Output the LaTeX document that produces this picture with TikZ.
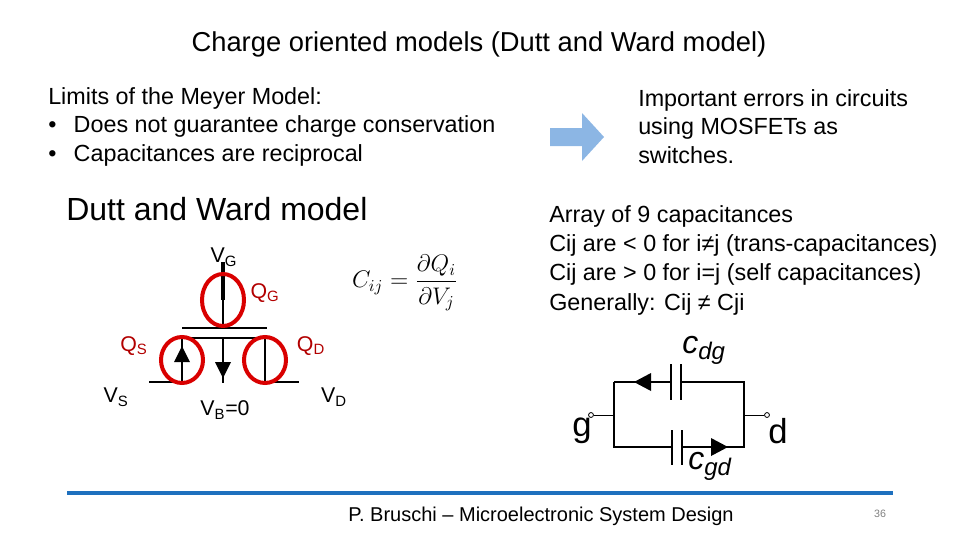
\documentclass[tikz,border=0pt]{standalone}
\usepackage{fontspec}
\setmainfont{Liberation Sans}
\usetikzlibrary{arrows.meta}
\definecolor{arrblue}{RGB}{140,182,228}
\definecolor{lineblue}{RGB}{30,112,190}
\begin{document}
\begin{tikzpicture}[x=0.75pt,y=-0.75pt,
  txt/.style={inner sep=0pt,anchor=west,font=\fontsize{17.5}{21.5}\selectfont},
  wire/.style={line width=1.6pt},
  ring/.style={draw=red!85!black,line width=3pt},
  rq/.style={text=red!70!black,inner sep=0pt,font=\fontsize{16}{18}\selectfont},
  lab/.style={inner sep=0pt,font=\fontsize{16}{18}\selectfont},
  capline/.style={line width=1.2pt}]
\useasboundingbox (0,0) rectangle (960,540);
\node[inner sep=0pt,font=\fontsize{20.5}{24}\selectfont] (title) at (479,44) {Charge oriented models (Dutt and Ward model)};
\node[txt,anchor=north west,align=left] (lim) at (48,87) {Limits of the Meyer Model:\\
\textbullet\hspace{13pt}Does not guarantee charge conservation\\
\textbullet\hspace{13pt}Capacitances are reciprocal};
\fill[arrblue] (550,128) -- (582,128) -- (582,113) -- (604,137) -- (582,161) -- (582,146) -- (550,146) -- cycle;
\node[txt,anchor=north west,align=left] (err) at (638,89) {Important errors in circuits\\using MOSFETs as\\switches.};
\node[inner sep=0pt,anchor=west,font=\fontsize{24}{28}\selectfont] (dw) at (66,209) {Dutt and Ward model};
\node[txt,anchor=north west,align=left,font=\fontsize{17.5}{22}\selectfont] (arr) at (549,205) {Array of 9 capacitances\\
Cij are < 0 for i≠j (trans-capacitances)\\
Cij are > 0 for i=j (self capacitances)\\
Generally: Cij ≠ Cji};
% MOSFET
\coordinate (g0) at (223,262); \coordinate (g1) at (223,328);
\draw[line width=2.5pt] (g0) -- (223,300);
\draw[wire] (223,300) -- (g1);
\draw[wire] (182,328) -- (267,328);
\draw[wire] (182,338) -- (267,338);
\draw[wire] (182,338) -- (182,383) (265,338) -- (265,383) (223,338) -- (223,383);
\draw[wire] (149,382) -- (182,382) (265,382) -- (299,382);
\fill (182,346) -- (174,362) -- (190,362) -- cycle;
\fill (223,378) -- (215,362) -- (231,362) -- cycle;
\draw[ring] (223,300) ellipse (21 and 26);
\draw[ring] (182,360) ellipse (21 and 23);
\draw[ring] (265,360) ellipse (21 and 23);
\node[lab] (vg) at (224,257) {V\textsubscript{G}};
\node[rq] (qg) at (265,293) {Q\textsubscript{G}};
\node[rq] (qs) at (134,346) {Q\textsubscript{S}};
\node[rq] (qd) at (311,346) {Q\textsubscript{D}};
\node[lab] (vs) at (116,397) {V\textsubscript{S}};
\node[lab] (vb) at (225,410) {V\textsubscript{B}=0};
\node[lab] (vd) at (334,397) {V\textsubscript{D}};
\node[inner sep=0pt,scale=1.25,font=\Large] (eq) at (405,283) {$\displaystyle C_{ij}=\frac{\partial Q_i}{\partial V_j}$};
% capacitor circuit
\coordinate (tl) at (614,382); \coordinate (tr) at (744,382);
\coordinate (bl) at (614,447); \coordinate (br) at (744,447);
\coordinate (ml) at (614,415); \coordinate (mr) at (744,415);
\draw[capline] (tl) -- (671,382) (681,382) -- (tr) -- (br) -- (682,447) (672,447) -- (bl) -- (tl);
\draw[capline] (671,364) -- (671,400) (681,364) -- (681,400);
\draw[capline] (672,430) -- (672,465) (682,430) -- (682,465);
\fill (634,382) -- (651,373) -- (651,391) -- cycle;
\fill (728,447) -- (711,438) -- (711,456) -- cycle;
\node[circle,draw,inner sep=1.3pt,line width=0.6pt] (gt) at (591,415) {};
\node[circle,draw,inner sep=1.3pt,line width=0.6pt] (dt) at (767,415) {};
\draw[line width=0.6pt] (gt) -- (ml) (mr) -- (dt);
\node[inner sep=0pt,font=\fontsize{26}{28}\selectfont] (gl) at (582,431) {g};
\node[inner sep=0pt,font=\fontsize{26}{28}\selectfont] (dl) at (778,431) {d};
\node[inner sep=0pt,font=\fontsize{24}{26}\selectfont\itshape] (cdg) at (704,350) {c\textsubscript{\fontsize{18}{19}\selectfont dg}};
\node[inner sep=0pt,font=\fontsize{24}{26}\selectfont\itshape] (cgd) at (710,466) {c\textsubscript{\fontsize{18}{19}\selectfont gd}};
% footer
\draw[line width=3pt,color=lineblue] (67,493) -- (893,493);
\node[inner sep=0pt,font=\fontsize{15}{17}\selectfont] (ft) at (541,516) {P. Bruschi – Microelectronic System Design};
\node[inner sep=0pt,font=\fontsize{8}{9}\selectfont,text=gray] (pg) at (880,514) {36};
\end{tikzpicture}
\end{document}
